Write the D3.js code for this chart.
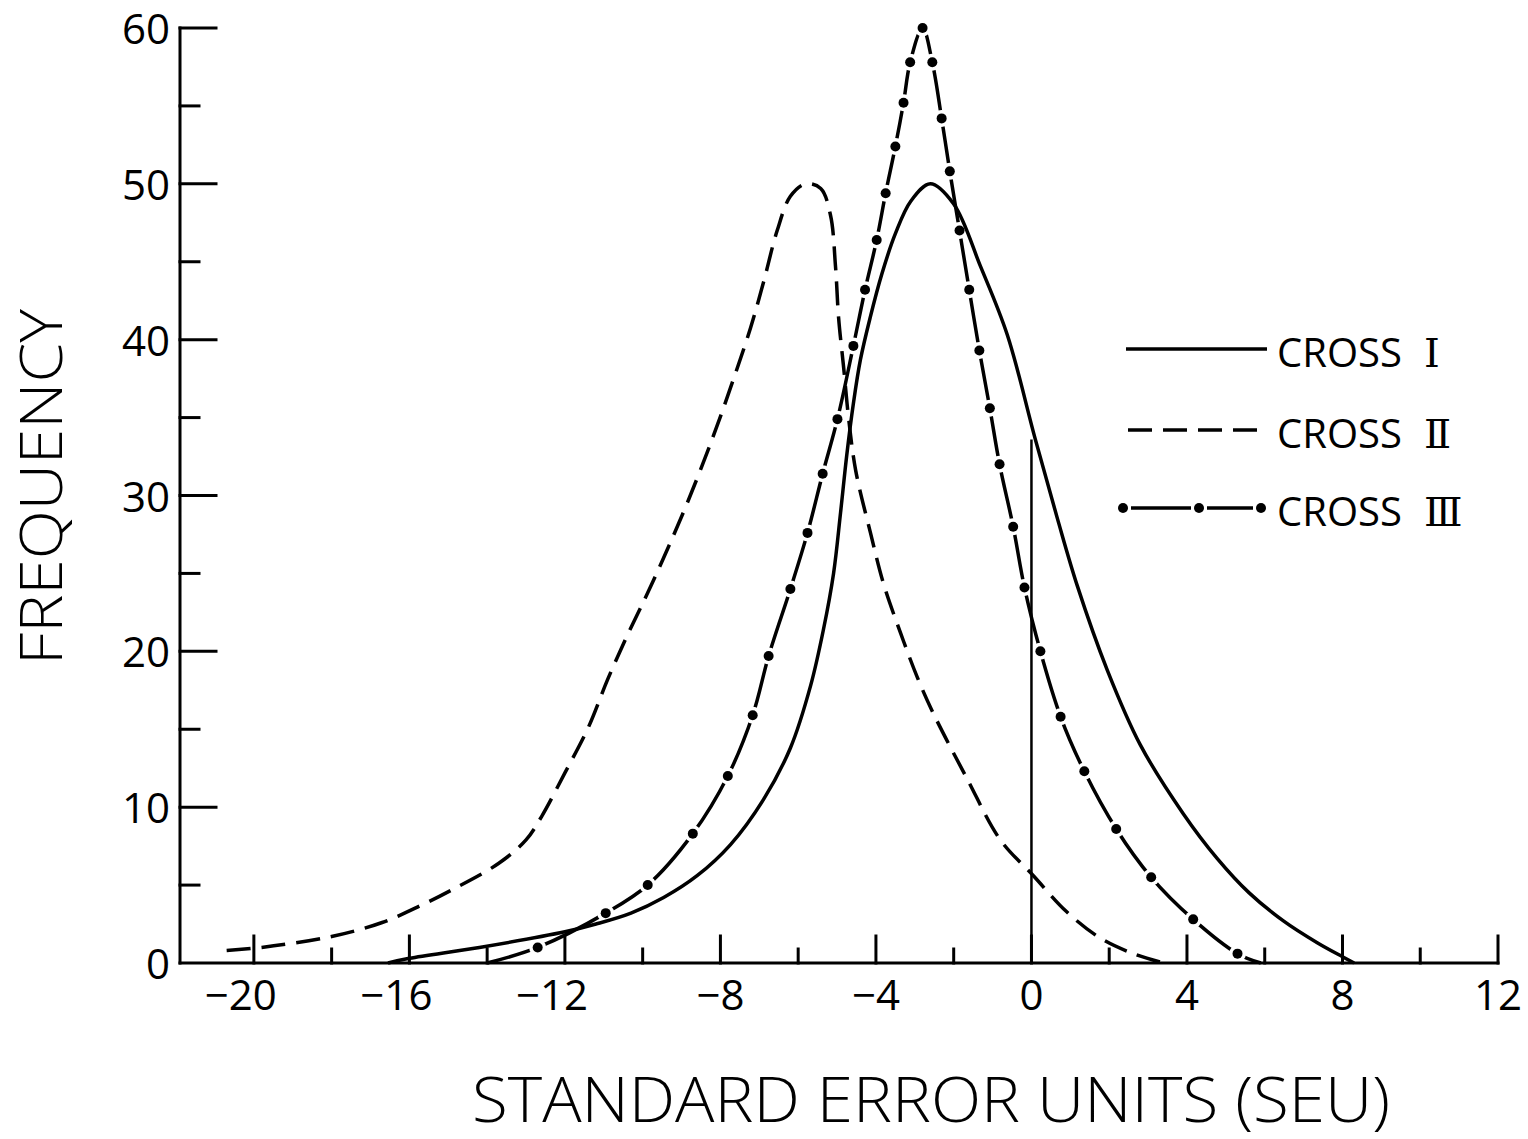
<!DOCTYPE html>
<html>
<head>
<meta charset="utf-8">
<script src="https://cdn.jsdelivr.net/npm/d3@7"></script>
<style>
    body { margin: 0; background: #fff; }
    svg text { font-family: 'Open Sans', 'DejaVu Sans', sans-serif; font-weight: 300; fill: #000; }
</style>
</head>
<body>
<svg id="chart" width="1528" height="1139"></svg>
<script>

// Data: [SEU, frequency]
const crossI = [
    [-16.55, 0], [-16.0, 0.3], [-14.2, 1.0], [-12.0, 2.0], [-11.2, 2.5], [-10.3, 3.2],
    [-9.46, 4.2], [-8.6, 5.6], [-7.74, 7.6], [-6.89, 10.5], [-6.2, 13.8], [-5.68, 17.8],
    [-5.35, 21.4], [-5.09, 25.0], [-4.91, 28.9], [-4.75, 32.6], [-4.58, 35.9], [-4.4, 38.7],
    [-4.15, 41.4], [-3.85, 44.2], [-3.5, 46.8], [-3.1, 48.9], [-2.6, 50.0], [-2.0, 48.7],
    [-1.31, 44.7], [-0.62, 40.3], [0.1, 33.6], [0.67, 28.5], [1.18, 24.2], [1.95, 18.8],
    [2.8, 14.0], [3.9, 9.6], [4.78, 6.7], [5.6, 4.5], [6.48, 2.7], [7.35, 1.3], [8.0, 0.4], [8.3, 0]
];

const crossII = [
    [-20.7, 0.8], [-19.8, 1.0], [-18.0, 1.7], [-16.7, 2.6], [-15.7, 3.7], [-14.9, 4.7],
    [-13.7, 6.4], [-13.0, 7.9], [-12.6, 9.4], [-12.0, 12.2], [-11.4, 15.1], [-10.9, 18.2],
    [-10.4, 21.0], [-9.9, 23.6], [-9.46, 26.0], [-8.84, 29.6], [-8.17, 33.9], [-7.66, 37.5],
    [-7.22, 40.8], [-6.89, 43.7], [-6.54, 47.0], [-6.2, 49.2], [-5.81, 50.0], [-5.42, 49.7],
    [-5.17, 48.0], [-5.04, 44.7], [-4.96, 41.4], [-4.83, 38.2], [-4.7, 34.9], [-4.52, 31.6],
    [-4.14, 27.6], [-3.8, 24.3], [-3.37, 21.2], [-2.93, 18.3], [-2.52, 16.0], [-1.65, 11.8],
    [-0.8, 7.9], [0.05, 5.6], [0.9, 3.3], [1.77, 1.6], [2.62, 0.6], [3.4, 0]
];

const crossIII = [
    [-14.0, 0], [-12.7, 1.0], [-10.95, 3.2], [-9.87, 5.0], [-8.71, 8.3], [-7.81, 12.0],
    [-7.17, 15.9], [-6.76, 19.7], [-6.2, 24.0], [-5.76, 27.6], [-5.37, 31.4], [-4.99, 34.9],
    [-4.58, 39.6], [-4.28, 43.2], [-3.98, 46.4], [-3.75, 49.4], [-3.5, 52.4], [-3.29, 55.2],
    [-3.12, 57.8], [-2.8, 60.0], [-2.55, 57.8], [-2.31, 54.2], [-2.1, 50.8], [-1.85, 47.0],
    [-1.6, 43.2], [-1.34, 39.3], [-1.07, 35.6], [-0.82, 32.0], [-0.47, 28.0], [-0.18, 24.1],
    [0.23, 20.0], [0.75, 15.8], [1.36, 12.3], [2.18, 8.6], [3.08, 5.5], [4.16, 2.8], [5.3, 0.6], [5.9, 0]
];

const legendNames = ['CROSS', 'CROSS', 'CROSS'];
const legendNumerals = ['\u2160', '\u2161', '\u2162'];

const xDomain = [-21.9, 12];
const xTicks = d3.range(-20, 13, 2);
const xLabels = [-20, -16, -12, -8, -4, 0, 4, 8, 12];
const yTicks = d3.range(0, 61, 5);
const yLabels = [0, 10, 20, 30, 40, 50, 60];

const markerX = 0;
const markerTop = 33.6;

const xTitle = 'STANDARD ERROR UNITS (SEU)';
const yTitle = 'FREQUENCY';

(function () {

    let d3svg = d3.select('#chart'),
        xScale = d3.scaleLinear().domain(xDomain).range([180, 1498]),
        yScale = d3.scaleLinear().domain([0, 60]).range([963, 28]),
        x0 = xScale(xDomain[0]),
        y0 = yScale(0)
    ;

    d3svg.append('rect').attr('width', 1528).attr('height', 1139).attr('fill', '#fff');

    // Axes lines
    let axes = d3svg.append('g').attr('stroke', '#000').attr('stroke-width', 3).attr('stroke-linecap', 'square');
    axes.append('line').attr('x1', x0).attr('x2', xScale(12)).attr('y1', y0).attr('y2', y0);
    axes.append('line').attr('x1', x0).attr('x2', x0).attr('y1', y0).attr('y2', yScale(60));

    // X ticks (pointing up, longer on labelled ones)
    axes.selectAll('.xtick').data(xTicks).enter().append('line')
        .attr('class', 'xtick')
        .attr('x1', (d) => xScale(d))
        .attr('x2', (d) => xScale(d))
        .attr('y1', y0)
        .attr('y2', (d) => y0 - (xLabels.includes(d) ? 27 : 14));

    // Y ticks (pointing right)
    axes.selectAll('.ytick').data(yTicks.filter((d) => d > 0)).enter().append('line')
        .attr('class', 'ytick')
        .attr('x1', x0)
        .attr('x2', (d) => x0 + (yLabels.includes(d) ? 36 : 19))
        .attr('y1', (d) => yScale(d))
        .attr('y2', (d) => yScale(d));

    // Tick labels
    d3svg.selectAll('.xlabel').data(xLabels).enter().append('text')
        .attr('class', 'xlabel')
        .attr('x', (d) => xScale(d) + (d <= -10 ? -13 : 0))
        .attr('y', 1010)
        .attr('text-anchor', 'middle')
        .attr('font-size', 42)
        .style('font-weight', 400)
        .text((d) => d < 0 ? '\u2212' + Math.abs(d) : d);

    d3svg.selectAll('.ylabel').data(yLabels).enter().append('text')
        .attr('class', 'ylabel')
        .attr('x', 170)
        .attr('y', (d) => yScale(d) + 16)
        .attr('text-anchor', 'end')
        .attr('font-size', 42)
        .style('font-weight', 400)
        .text((d) => d);

    // Titles
    d3svg.append('text')
        .attr('x', 472).attr('y', 1122)
        .attr('font-size', 62)
        .attr('textLength', 918).attr('lengthAdjust', 'spacingAndGlyphs')
        .text(xTitle);

    d3svg.append('text')
        .attr('transform', 'translate(62, 665) rotate(-90)')
        .attr('font-size', 58)
        .attr('textLength', 356).attr('lengthAdjust', 'spacingAndGlyphs')
        .text(yTitle);

    // Curves
    let line = d3.line()
        .curve(d3.curveCatmullRom.alpha(0.5))
        .x((d) => xScale(d[0]))
        .y((d) => yScale(d[1]));

    let dots = crossIII.filter((d) => d[1] > 0);

    // Mask to leave gaps round the dots of cross III
    let mask = d3svg.append('defs').append('mask').attr('id', 'dotGaps')
        .attr('maskUnits', 'userSpaceOnUse').attr('x', 0).attr('y', 0).attr('width', 1528).attr('height', 1139);
    mask.append('rect').attr('width', 1528).attr('height', 1139).attr('fill', '#fff');
    mask.selectAll('circle').data(dots).enter().append('circle')
        .attr('cx', (d) => xScale(d[0])).attr('cy', (d) => yScale(d[1])).attr('r', 8.5).attr('fill', '#000');

    let curves = d3svg.append('g').attr('fill', 'none').attr('stroke', '#000');

    curves.append('path').datum(crossI)
        .attr('stroke-width', 3.5)
        .attr('d', line);

    curves.append('path').datum(crossII)
        .attr('stroke-width', 3.5)
        .attr('stroke-dasharray', '24,11')
        .attr('d', line);

    curves.append('path').datum(crossIII)
        .attr('stroke-width', 3.5)
        .attr('mask', 'url(#dotGaps)')
        .attr('d', line);

    d3svg.append('g').selectAll('circle').data(dots).enter().append('circle')
        .attr('cx', (d) => xScale(d[0]))
        .attr('cy', (d) => yScale(d[1]))
        .attr('r', 5)
        .attr('fill', '#000');

    // Vertical marker at 0
    d3svg.append('line')
        .attr('x1', xScale(markerX)).attr('x2', xScale(markerX))
        .attr('y1', y0).attr('y2', yScale(markerTop))
        .attr('stroke', '#000').attr('stroke-width', 2.5);

    // Legend
    let legend = d3svg.append('g').attr('stroke', '#000').attr('stroke-width', 3.5);
    let rowY = [349, 430, 508];

    legend.append('line').attr('x1', 1126).attr('x2', 1267).attr('y1', rowY[0]).attr('y2', rowY[0]);
    legend.append('line').attr('x1', 1128).attr('x2', 1260).attr('y1', rowY[1]).attr('y2', rowY[1])
        .attr('stroke-dasharray', '24,11');
    legend.append('line').attr('x1', 1131).attr('x2', 1191).attr('y1', rowY[2]).attr('y2', rowY[2]);
    legend.append('line').attr('x1', 1207).attr('x2', 1253).attr('y1', rowY[2]).attr('y2', rowY[2]);
    legend.selectAll('circle').data([1123, 1199, 1261]).enter().append('circle')
        .attr('cx', (d) => d).attr('cy', rowY[2]).attr('r', 5)
        .attr('stroke', 'none').attr('fill', '#000');

    let labels = d3svg.selectAll('.legend').data(legendNames).enter().append('text')
        .attr('class', 'legend')
        .attr('x', 1277)
        .attr('y', (d, i) => rowY[i] + 18)
        .attr('font-size', 40)
        .style('font-weight', 400);
    labels.append('tspan').text((d) => d + ' ');
    labels.append('tspan')
        .style('font-family', "'DejaVu Serif', 'Liberation Serif', serif")
        .attr('x', 1424)
        .text((d, i) => legendNumerals[i]);

}());
</script>
</body>
</html>
